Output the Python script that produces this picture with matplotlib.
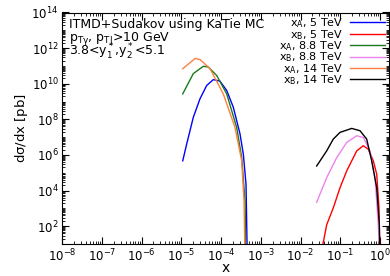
import numpy as np
import matplotlib.pyplot as plt
from matplotlib.ticker import LogLocator, NullFormatter

plt.rcParams['mathtext.default'] = 'regular'

# x_A curves (small x)
xa_5 = [1.09e-5, 1.37e-5, 2.01e-5, 2.96e-5, 4.37e-5, 6.4e-5, 9.4e-5, 1.39e-4, 2.04e-4, 3.0e-4, 3.64e-4, 4.26e-4, 4.6e-4]
ya_5 = [4.7e5, 4.1e6, 1.3e8, 1.42e9, 8.0e9, 1.7e10, 1.4e10, 4.2e9, 4.8e8, 1.56e7, 1.15e6, 2.3e4, 1.0]
xa_88 = [1.09e-5, 2.01e-5, 3.59e-5, 4.8e-5, 7.8e-5, 1.39e-4, 2.48e-4, 3.32e-4, 4.02e-4, 4.26e-4]
ya_88 = [2.7e9, 3.7e10, 9.5e10, 8.7e10, 2.9e10, 2.7e9, 3.5e7, 7.1e5, 2.6e3, 1.0]
xa_14 = [1.09e-5, 2.22e-5, 2.96e-5, 5.3e-5, 1.14e-4, 2.25e-4, 3.32e-4, 3.8e-4, 4.02e-4]
ya_14 = [7.0e10, 2.6e11, 2.3e11, 7.0e10, 2.7e9, 3.5e7, 4.7e5, 2.6e3, 1.0]

# x_B curves (large x)
xb_5 = [0.036, 0.0456, 0.0668, 0.0986, 0.145, 0.26, 0.38, 0.508, 0.678, 0.826, 0.944, 1.0]
yb_5 = [8.0, 1.2e2, 1.07e3, 1.44e4, 1.26e5, 1.7e6, 3.3e6, 2.1e6, 4.7e5, 8.5e4, 1.07e3, 1.0]
xb_88 = [0.0255, 0.0456, 0.0815, 0.145, 0.26, 0.38, 0.56, 0.75, 0.905, 1.0]
yb_88 = [2.2e3, 5.3e4, 7.1e5, 5.0e6, 1.2e7, 9.6e6, 1.7e6, 5.3e4, 1.3e2, 1.0]
xb_14 = [0.0255, 0.0456, 0.0668, 0.0986, 0.194, 0.314, 0.462, 0.618, 0.826, 0.96, 1.0]
yb_14 = [2.4e5, 1.7e6, 7.8e6, 1.85e7, 3.1e7, 2.3e7, 7.8e6, 4.7e5, 1.44e4, 1.3e2, 1.0]

fig = plt.figure(figsize=(3.9, 2.76), dpi=100)
ax = fig.add_axes([62/390, 32/276, 327/390, 231.5/276])

ax.plot(xa_5, ya_5, color='blue', lw=1, label=r'$x_A$, 5 TeV')
ax.plot(xb_5, yb_5, color='red', lw=1, label=r'$x_B$, 5 TeV')
ax.plot(xa_88, ya_88, color='#1a7a1a', lw=1, label=r'$x_A$, 8.8 TeV')
ax.plot(xb_88, yb_88, color='violet', lw=1, label=r'$x_B$, 8.8 TeV')
ax.plot(xa_14, ya_14, color='#ff7f3f', lw=1, label=r'$x_A$, 14 TeV')
ax.plot(xb_14, yb_14, color='black', lw=1, label=r'$x_B$, 14 TeV')

ax.set_xscale('log')
ax.set_yscale('log')
ax.set_xlim(1e-8, 10 ** (9 / 39.75))
ax.set_ylim(10, 1e14)

ax.xaxis.set_major_locator(LogLocator(base=10, subs=[1.0], numticks=20))
ax.xaxis.set_minor_locator(LogLocator(base=10, subs=np.arange(2, 10), numticks=20))
ax.xaxis.set_minor_formatter(NullFormatter())
ax.yaxis.set_major_locator(LogLocator(base=100, subs=[1.0], numticks=20))
ax.yaxis.set_minor_locator(LogLocator(base=10, subs=np.arange(1, 10), numticks=30))
ax.yaxis.set_minor_formatter(NullFormatter())

ax.tick_params(which='both', direction='in', top=True, right=True, labelsize=8.5, pad=2.5)
ax.tick_params(which='major', length=5, width=0.8)
ax.tick_params(which='minor', length=2.5, width=0.6)

ax.set_xlabel('x', fontsize=10, labelpad=-2)
ax.set_ylabel(r'd$\sigma$/dx [pb]', fontsize=9.5, labelpad=1)

ax.text(0.021, 0.95, 'ITMD+Sudakov using KaTie MC', transform=ax.transAxes, fontsize=9, va='center')
ax.text(0.021, 0.888, r'$p_{T\gamma}$, $p_{TJ}$>10 GeV', transform=ax.transAxes, fontsize=9, va='center')
ax.text(0.021, 0.828, r'3.8<$y^*_1$,$y^*_2$<5.1', transform=ax.transAxes, fontsize=9, va='center')

ax.legend(loc='upper right', frameon=False, markerfirst=False, fontsize=8,
          labelspacing=-0.22, handlelength=3.2, handletextpad=0.6,
          borderaxespad=0.05, borderpad=0.3)

fig.savefig('out.png', dpi=100)
